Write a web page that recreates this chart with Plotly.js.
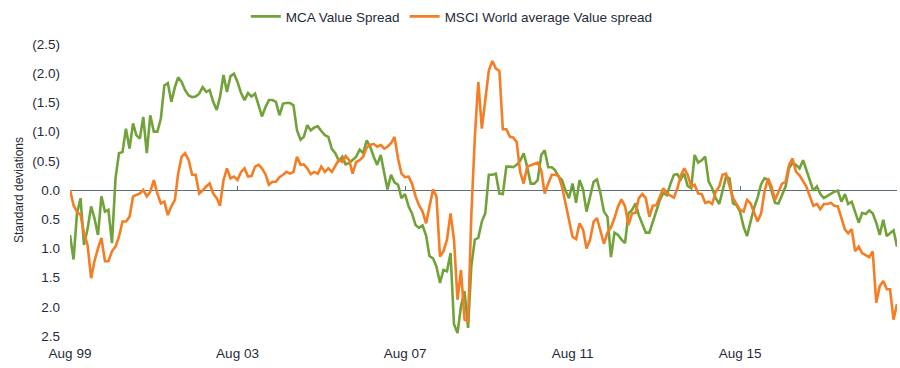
<!DOCTYPE html>
<html>
<head>
<meta charset="utf-8">
<script src="https://cdn.plot.ly/plotly-3.0.1.min.js"></script>
<style>
html,body{margin:0;padding:0;background:#fff;}
#chart{width:900px;height:368px;}
</style>
</head>
<body>
<div id="chart"></div>
<script>
// Monthly series starting Aug 1999 (values in standard deviations; negatives plotted upward)
const startYear = 1999, startMonth = 8;
const mcaValueSpread = [
0.77,1.19,0.40,0.14,0.94,0.67,0.28,0.48,0.77,0.11,0.37,0.34,0.91,-0.20,-0.63,-0.65,-1.05,-0.71,-1.14,-0.94,
-0.88,-1.25,-0.63,-1.28,-1.00,-1.00,-1.22,-1.79,-1.83,-1.51,-1.76,-1.93,-1.85,-1.71,-1.62,-1.59,-1.60,-1.65,-1.76,-1.68,
-1.71,-1.51,-1.37,-1.59,-1.97,-1.68,-1.95,-1.99,-1.85,-1.66,-1.54,-1.66,-1.60,-1.65,-1.45,-1.26,-1.42,-1.54,-1.54,-1.51,
-1.28,-1.48,-1.49,-1.49,-1.45,-1.02,-0.86,-0.91,-1.11,-1.02,-1.07,-1.09,-1.01,-0.94,-0.91,-0.70,-0.63,-0.50,-0.57,-0.44,
-0.46,-0.52,-0.57,-0.69,-0.63,-0.85,-0.74,-0.57,-0.43,-0.60,-0.28,-0.01,-0.26,-0.13,-0.09,0.14,0.07,0.28,0.40,0.60,
0.65,0.61,0.78,1.13,1.17,1.31,1.59,1.37,1.39,1.08,2.30,2.45,1.99,1.73,2.36,1.31,0.85,0.82,0.54,0.40,
-0.26,-0.26,-0.28,0.06,0.07,-0.40,-0.40,-0.39,-0.43,-0.50,-0.63,-0.40,-0.11,-0.11,-0.17,-0.60,-0.68,-0.39,-0.39,-0.34,
-0.23,-0.17,0.01,0.14,-0.11,0.22,-0.17,-0.01,0.37,0.11,-0.14,-0.18,0.06,0.37,0.46,1.15,0.73,0.77,0.85,0.91,
0.40,0.34,0.23,0.43,0.57,0.73,0.73,0.54,0.35,0.17,0.05,0.09,-0.10,-0.26,-0.27,-0.18,-0.28,-0.07,-0.03,-0.60,
-0.47,-0.51,-0.57,-0.14,-0.03,0.14,0.24,0.03,-0.23,-0.20,0.23,0.26,0.37,0.63,0.79,0.54,0.31,0.13,-0.10,-0.20,
-0.18,0.01,0.22,0.23,0.07,-0.06,-0.37,-0.46,-0.43,-0.37,-0.51,-0.34,-0.14,0.01,-0.06,0.07,0.14,0.10,0.06,0.03,
0.01,0.20,0.07,0.24,0.20,0.37,0.56,0.39,0.41,0.35,0.40,0.56,0.77,0.51,0.79,0.74,0.69,0.97
];
const msciWorldValueSpread = [
0.00,0.26,0.37,0.43,0.74,0.94,1.51,1.22,1.00,0.82,1.22,1.22,1.05,0.97,0.80,0.54,0.54,0.46,0.11,0.09,
0.06,0.00,0.11,0.03,-0.17,0.06,0.23,0.20,0.43,0.28,0.17,-0.28,-0.57,-0.63,-0.51,-0.26,-0.26,0.06,0.01,-0.06,
-0.11,0.06,0.14,0.27,-0.17,-0.37,-0.20,-0.23,-0.17,-0.31,-0.37,-0.23,-0.24,-0.40,-0.43,-0.37,-0.27,-0.09,-0.14,-0.14,
-0.22,-0.26,-0.31,-0.28,-0.31,-0.57,-0.43,-0.44,-0.37,-0.27,-0.31,-0.28,-0.40,-0.31,-0.37,-0.31,-0.41,-0.52,-0.48,-0.58,
-0.51,-0.28,-0.48,-0.51,-0.57,-0.73,-0.77,-0.79,-0.74,-0.77,-0.71,-0.74,-0.80,-0.91,-0.54,-0.28,-0.22,-0.23,-0.11,0.11,
0.26,0.37,0.57,0.31,-0.01,0.11,1.14,1.05,0.85,0.40,0.85,1.88,1.37,2.22,2.25,0.45,-0.91,-1.85,-1.05,-1.54,
-2.05,-2.21,-2.08,-2.04,-1.04,-1.04,-0.91,-0.90,-0.82,-0.31,-0.11,-0.40,-0.42,-0.44,-0.47,-0.34,0.06,-0.11,-0.26,-0.26,
-0.24,-0.06,0.23,0.46,0.80,0.84,0.57,0.68,1.00,0.85,0.54,0.48,0.69,0.92,0.73,0.64,0.48,0.28,0.16,0.28,
0.60,0.40,0.39,0.14,0.07,0.14,0.46,0.27,0.26,0.11,-0.03,0.06,0.10,0.13,-0.03,-0.24,-0.37,-0.26,-0.06,-0.09,
0.06,0.07,0.22,0.20,0.24,0.03,-0.06,-0.26,-0.28,-0.06,0.14,0.24,0.34,0.37,0.17,0.23,0.40,0.54,0.40,0.03,
-0.20,-0.06,0.17,0.03,-0.11,-0.14,-0.43,-0.54,-0.31,-0.25,-0.15,-0.06,0.11,0.27,0.24,0.33,0.24,0.24,0.22,0.27,
0.28,0.46,0.68,0.74,0.67,1.05,0.97,1.08,1.11,1.15,1.05,1.93,1.65,1.56,1.70,1.70,2.22,1.95
];
const xTickDates = ['1999-08-01','2003-08-01','2007-08-01','2011-08-01','2015-08-01'];
const xTickLabels = ['Aug 99','Aug 03','Aug 07','Aug 11','Aug 15'];
const yTickValues = [-2.5,-2.0,-1.5,-1.0,-0.5,0,0.5,1.0,1.5,2.0,2.5];
const yTickLabels = ['(2.5)','(2.0)','(1.5)','(1.0)','(0.5)','0.0','0.5','1.0','1.5','2.0','2.5'];
const seriesNames = ['MCA Value Spread','MSCI World average Value spread'];

// month dates for the category axis
const months = [];
for (let i = 0; i < mcaValueSpread.length; i++) {
  const t = (startMonth - 1) + i;
  const y = startYear + Math.floor(t / 12);
  const m = (t % 12) + 1;
  months.push(y + '-' + String(m).padStart(2,'0') + '-01');
}

const font = "Arial, 'Liberation Sans', sans-serif";
const textColor = '#1f2b3b';

const traces = [
  {x: months, y: mcaValueSpread, name: seriesNames[0], type: 'scatter', mode: 'lines',
   line: {color: '#72a23a', width: 2.6}, xaxis: 'x', yaxis: 'y'},
  {x: months, y: msciWorldValueSpread, name: seriesNames[1], type: 'scatter', mode: 'lines',
   line: {color: '#f57d24', width: 2.6}, xaxis: 'x2', yaxis: 'y'}
];

const layout = {
  width: 900, height: 368,
  margin: {l: 70, r: 3, t: 44, b: 32},
  paper_bgcolor: '#ffffff', plot_bgcolor: '#ffffff',
  font: {family: font, size: 13.5, color: textColor},
  showlegend: true,
  legend: {orientation: 'h', xref: 'container', yref: 'container', x: 0.502, xanchor: 'center',
           y: 0.955, yanchor: 'middle', font: {size: 13.5, color: textColor}, itemwidth: 30,
           entrywidth: 0, tracegroupgap: 0},
  xaxis: {type: 'date', range: [months[0], months[months.length-1]], tickvals: xTickDates, ticktext: xTickLabels,
          showgrid: false, zeroline: false, showline: false, ticks: '', tickfont: {size: 13.5},
          ticklabelstandoff: 7},
  xaxis2: {type: 'date', overlaying: 'x', matches: 'x', anchor: 'free', position: 0.5, side: 'bottom',
           tickvals: xTickDates, showticklabels: false, ticks: 'inside', ticklen: 4, tickwidth: 1,
           tickcolor: '#5e6e7c', showgrid: false, zeroline: false, showline: false},
  yaxis: {range: [2.5, -2.5], tickvals: yTickValues, ticktext: yTickLabels, showgrid: false,
          zeroline: true, zerolinecolor: '#5e6e7c', zerolinewidth: 1, showline: false, ticks: '',
          tickfont: {size: 13.5}, ticklabelstandoff: 9,
          title: {text: 'Standard deviations', font: {size: 12, color: textColor}, standoff: 6}}
};

Plotly.newPlot('chart', traces, layout, {displayModeBar: false, staticPlot: true});
</script>
</body>
</html>
